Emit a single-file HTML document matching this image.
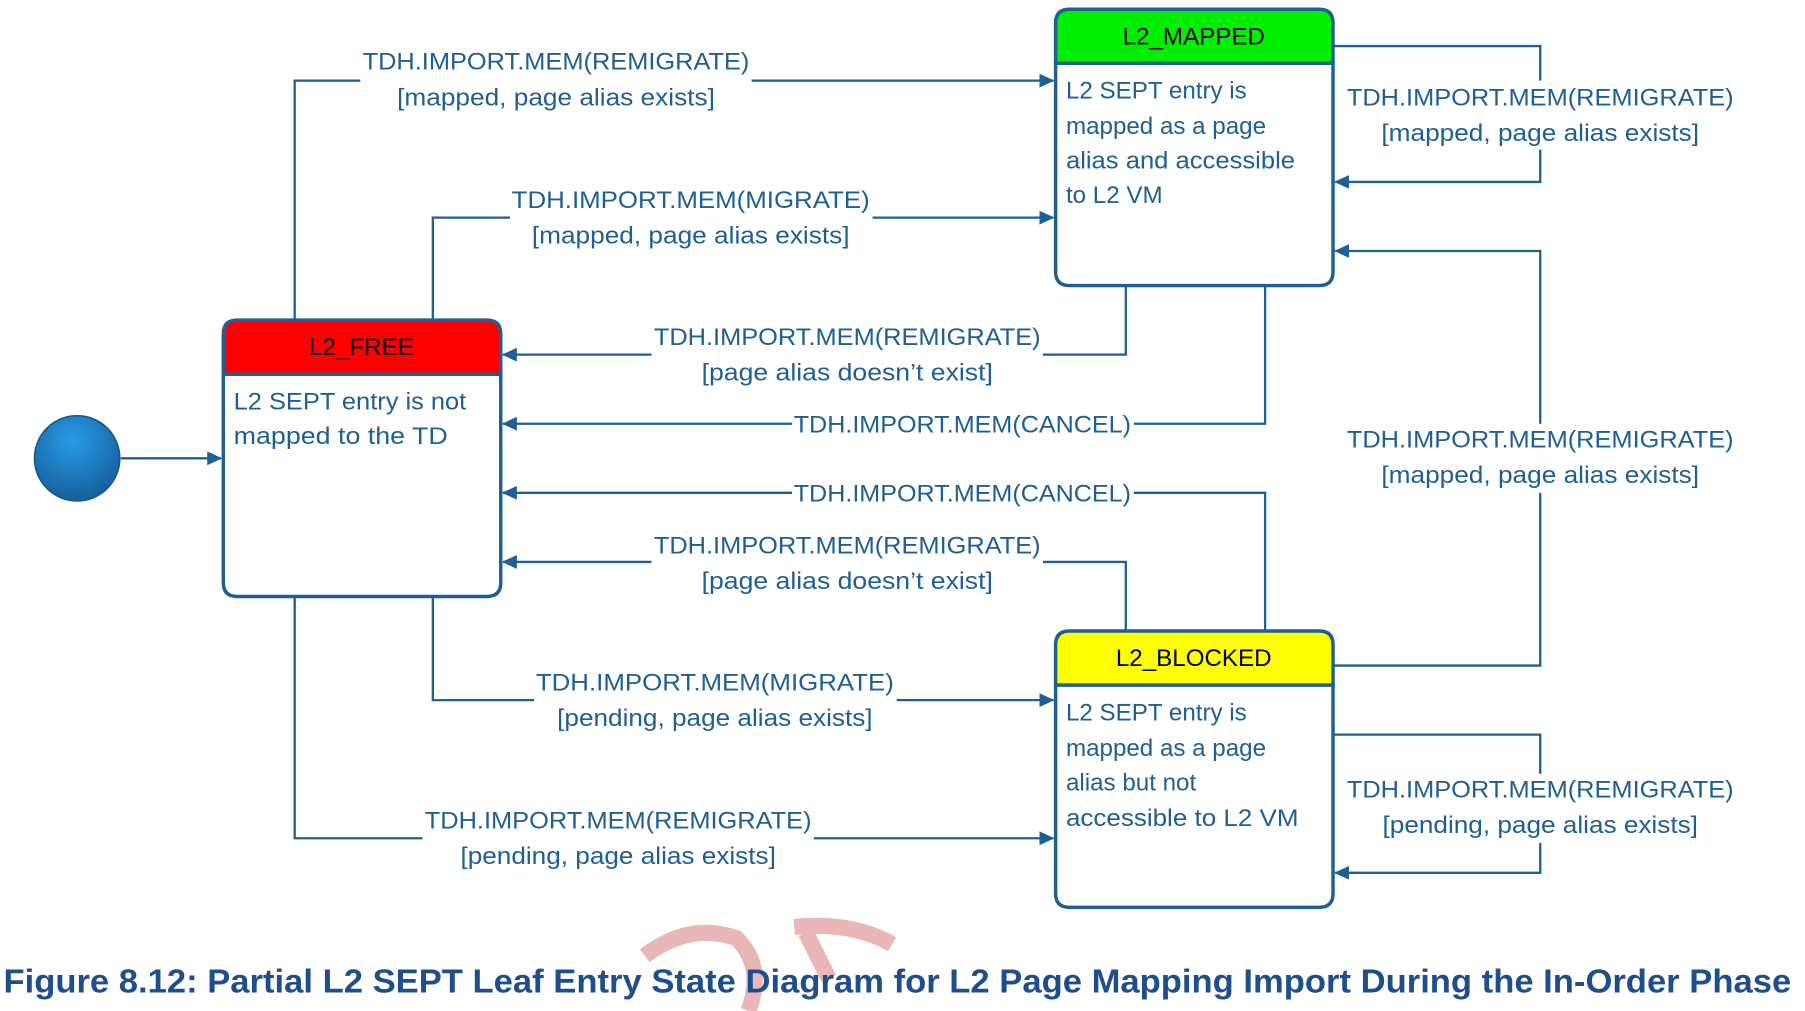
<!DOCTYPE html>
<html><head><meta charset="utf-8"><style>
html,body{margin:0;padding:0;background:#fff;}
svg{display:block;}
text{font-family:"Liberation Sans",sans-serif;}
</style></head><body>
<svg width="1805" height="1011" viewBox="0 0 1568 878" preserveAspectRatio="none">
<defs>
<marker id="a" markerWidth="13" markerHeight="12" refX="12" refY="6" orient="auto" markerUnits="userSpaceOnUse">
<path d="M0,0 L13,6 L0,12 z" fill="#1f5f93"/></marker>
<radialGradient id="g" cx="45%" cy="30%" r="70%"><stop offset="0" stop-color="#2a9be8"/><stop offset="1" stop-color="#14609a"/></radialGradient>
</defs>
<g fill="none" stroke="#1f5f93" stroke-width="2">
<path d="M256,278 V70 H915" marker-end="url(#a)"/>
<path d="M376,278 V189 H915" marker-end="url(#a)"/>
<path d="M978,248 V308 H437" marker-end="url(#a)"/>
<path d="M1099,248 V368 H437" marker-end="url(#a)"/>
<path d="M1099,548 V428 H437" marker-end="url(#a)"/>
<path d="M978,548 V488 H437" marker-end="url(#a)"/>
<path d="M376,518 V608 H915" marker-end="url(#a)"/>
<path d="M256,518 V728 H915" marker-end="url(#a)"/>
<path d="M1158,40 H1338 V158 H1160" marker-end="url(#a)"/>
<path d="M1158,578 H1338 V218 H1160" marker-end="url(#a)"/>
<path d="M1158,638 H1338 V758 H1160" marker-end="url(#a)"/>
<path d="M105,398 H192" marker-end="url(#a)"/>
</g>
<circle cx="67" cy="398" r="37" fill="url(#g)" stroke="#1a5a8a" stroke-width="1.5"/>
<g stroke="#1f5f93" stroke-width="3">
<path d="M917,55 V20 Q917,8 929,8 H1146 Q1158,8 1158,20 V55 Z" fill="#00ee00"/>
<path d="M917,55 H1158 V236 Q1158,248 1146,248 H929 Q917,248 917,236 Z" fill="#fff"/>
<path d="M194,325 V290 Q194,278 206,278 H423 Q435,278 435,290 V325 Z" fill="#ff0000"/>
<path d="M194,325 H435 V506 Q435,518 423,518 H206 Q194,518 194,506 Z" fill="#fff"/>
<path d="M917,595 V560 Q917,548 929,548 H1146 Q1158,548 1158,560 V595 Z" fill="#ffff00"/>
<path d="M917,595 H1158 V776 Q1158,788 1146,788 H929 Q917,788 917,776 Z" fill="#fff"/>
</g>
<g font-size="21" fill="#000" text-anchor="middle" dominant-baseline="central">
<text x="1037" y="32">L2_MAPPED</text>
<text x="314" y="302">L2_FREE</text>
<text x="1037" y="572">L2_BLOCKED</text>
</g>
<g font-size="21" fill="#1f5f93" dominant-baseline="central">
<text x="926" y="79">L2 SEPT entry is</text>
<text x="926" y="110">mapped as a page</text>
<text x="926" y="140" textLength="199" lengthAdjust="spacingAndGlyphs">alias and accessible</text>
<text x="926" y="170">to L2 VM</text>
<text x="203" y="349" textLength="202" lengthAdjust="spacingAndGlyphs">L2 SEPT entry is not</text>
<text x="203" y="379" textLength="186" lengthAdjust="spacingAndGlyphs">mapped to the TD</text>
<text x="926" y="619">L2 SEPT entry is</text>
<text x="926" y="650">mapped as a page</text>
<text x="926" y="680">alias but not</text>
<text x="926" y="711" textLength="202" lengthAdjust="spacingAndGlyphs">accessible to L2 VM</text>
</g>
<g font-size="21" fill="#1f5f93" text-anchor="middle" dominant-baseline="central">
<g stroke="none">
<rect x="313" y="40" width="340" height="60" fill="#fff"/>
<rect x="443" y="160" width="315" height="60" fill="#fff"/>
<rect x="566" y="280" width="340" height="60" fill="#fff"/>
<rect x="688" y="356" width="297" height="26" fill="#fff"/>
<rect x="688" y="416" width="297" height="26" fill="#fff"/>
<rect x="566" y="460" width="340" height="60" fill="#fff"/>
<rect x="464" y="580" width="315" height="60" fill="#fff"/>
<rect x="367" y="700" width="340" height="60" fill="#fff"/>
<rect x="1168" y="70" width="340" height="60" fill="#fff"/>
<rect x="1168" y="368" width="340" height="60" fill="#fff"/>
<rect x="1168" y="672" width="340" height="60" fill="#fff"/>
</g>
<text x="483" y="54" textLength="336" lengthAdjust="spacingAndGlyphs">TDH.IMPORT.MEM(REMIGRATE)</text>
<text x="483" y="85" textLength="276" lengthAdjust="spacingAndGlyphs">[mapped, page alias exists]</text>
<text x="600" y="174" textLength="311" lengthAdjust="spacingAndGlyphs">TDH.IMPORT.MEM(MIGRATE)</text>
<text x="600" y="205" textLength="276" lengthAdjust="spacingAndGlyphs">[mapped, page alias exists]</text>
<text x="736" y="293" textLength="336" lengthAdjust="spacingAndGlyphs">TDH.IMPORT.MEM(REMIGRATE)</text>
<text x="736" y="324" textLength="253" lengthAdjust="spacingAndGlyphs">[page alias doesn’t exist]</text>
<text x="836" y="369" textLength="293" lengthAdjust="spacingAndGlyphs">TDH.IMPORT.MEM(CANCEL)</text>
<text x="836" y="429" textLength="293" lengthAdjust="spacingAndGlyphs">TDH.IMPORT.MEM(CANCEL)</text>
<text x="736" y="474" textLength="336" lengthAdjust="spacingAndGlyphs">TDH.IMPORT.MEM(REMIGRATE)</text>
<text x="736" y="505" textLength="253" lengthAdjust="spacingAndGlyphs">[page alias doesn’t exist]</text>
<text x="621" y="593" textLength="311" lengthAdjust="spacingAndGlyphs">TDH.IMPORT.MEM(MIGRATE)</text>
<text x="621" y="624" textLength="274" lengthAdjust="spacingAndGlyphs">[pending, page alias exists]</text>
<text x="537" y="713" textLength="336" lengthAdjust="spacingAndGlyphs">TDH.IMPORT.MEM(REMIGRATE)</text>
<text x="537" y="744" textLength="274" lengthAdjust="spacingAndGlyphs">[pending, page alias exists]</text>
<text x="1338" y="85" textLength="336" lengthAdjust="spacingAndGlyphs">TDH.IMPORT.MEM(REMIGRATE)</text>
<text x="1338" y="116" textLength="276" lengthAdjust="spacingAndGlyphs">[mapped, page alias exists]</text>
<text x="1338" y="382" textLength="336" lengthAdjust="spacingAndGlyphs">TDH.IMPORT.MEM(REMIGRATE)</text>
<text x="1338" y="413" textLength="276" lengthAdjust="spacingAndGlyphs">[mapped, page alias exists]</text>
<text x="1338" y="686" textLength="336" lengthAdjust="spacingAndGlyphs">TDH.IMPORT.MEM(REMIGRATE)</text>
<text x="1338" y="717" textLength="274" lengthAdjust="spacingAndGlyphs">[pending, page alias exists]</text>
</g>
<path d="M560,830 Q600,800 640,815 Q665,840 650,878 M700,810 L720,850 M690,805 Q740,800 775,820" fill="none" stroke="#e4a5a5" stroke-width="14" opacity="0.8"/>
<text x="3" y="853" font-size="29" font-weight="bold" fill="#1f4e8c" dominant-baseline="central" textLength="1553" lengthAdjust="spacingAndGlyphs">Figure 8.12:  Partial L2 SEPT Leaf Entry State Diagram for L2 Page Mapping Import During the In-Order Phase</text>
</svg>
</body></html>
